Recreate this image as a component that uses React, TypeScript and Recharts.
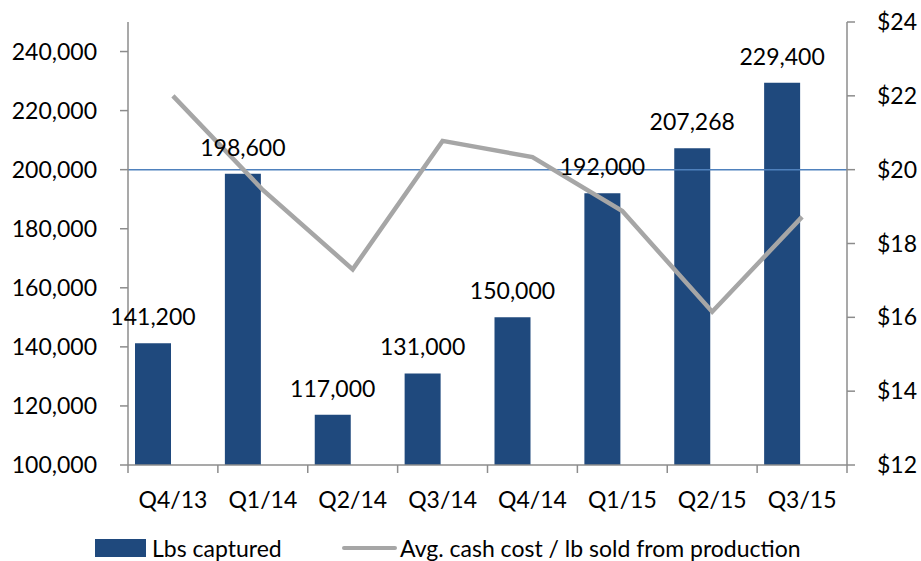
import { ComposedChart, Bar, Line, XAxis, YAxis, ReferenceLine, LabelList } from 'recharts';

const quarters = ['Q4/13', 'Q1/14', 'Q2/14', 'Q3/14', 'Q4/14', 'Q1/15', 'Q2/15', 'Q3/15'];
const lbsCaptured = [141200, 198600, 117000, 131000, 150000, 192000, 207268, 229400];
const cashCost = [22.0, 19.45, 17.3, 20.78, 20.34, 18.88, 16.15, 18.72];
const lbsTicks = [100000, 120000, 140000, 160000, 180000, 200000, 220000, 240000];
const costTicks = [12, 14, 16, 18, 20, 22, 24];

const data = quarters.map((q, i) => ({ q, lbs: lbsCaptured[i], cost: cashCost[i] }));

const FONT = 'Lato, "Open Sans", sans-serif';
const FS = 23;
const AXIS_GRAY = '#8c8c8c';
const BAR_BLUE = '#1f497d';
const LINE_GRAY = '#a6a6a6';

function QuarterTick({ x, y, payload, index, width, visibleTicksCount }: any) {
  const band = width / visibleTicksCount;
  const left = x - band / 2;
  return (
    <g>
      <line x1={left} y1={y} x2={left} y2={y + 8} stroke={AXIS_GRAY} strokeWidth={1.5} />
      {index === visibleTicksCount - 1 && (
        <line x1={x + band / 2} y1={y} x2={x + band / 2} y2={y + 8} stroke={AXIS_GRAY} strokeWidth={1.5} />
      )}
      <text x={x} y={y + 34} textAnchor="middle" dominantBaseline="central" fill="#000" fontSize={FS} fontFamily={FONT}>
        {payload.value}
      </text>
    </g>
  );
}

export default function App() {
  return (
    <div style={{ position: 'absolute', left: 0, top: 0, width: 921, height: 561, overflow: 'hidden', background: '#fff' }}>
      <ComposedChart width={921} height={575} data={data} margin={{ top: 22, right: 0, bottom: 60, left: 0 }}>
        <XAxis
          dataKey="q"
          xAxisId="x"
          height={50}
          tickSize={0}
          tickMargin={0}
          tickLine={false}
          axisLine={{ stroke: AXIS_GRAY, strokeWidth: 1.5 }}
          tick={<QuarterTick />}
          interval={0}
        />
        <YAxis
          yAxisId="lbs"
          width={128}
          domain={[100000, 250000]}
          ticks={lbsTicks}
          allowDataOverflow
          tickFormatter={(v: number) => v.toLocaleString('en-US')}
          tick={{ fill: '#000', fontSize: FS, fontFamily: FONT }}
          tickSize={8}
          tickMargin={23}
          tickLine={{ stroke: AXIS_GRAY, strokeWidth: 1.5 }}
          axisLine={{ stroke: AXIS_GRAY, strokeWidth: 1.5 }}
        />
        <YAxis
          yAxisId="cost"
          orientation="right"
          width={74}
          domain={[12, 24]}
          ticks={costTicks}
          tickFormatter={(v: number) => `$${v}`}
          tick={{ fill: '#000', fontSize: FS, fontFamily: FONT, textAnchor: 'start' }}
          tickSize={8}
          tickMargin={22}
          tickLine={{ stroke: AXIS_GRAY, strokeWidth: 1.5 }}
          axisLine={{ stroke: AXIS_GRAY, strokeWidth: 1.5 }}
        />
        <Bar dataKey="lbs" xAxisId="x" yAxisId="lbs" fill={BAR_BLUE} barSize={36} isAnimationActive={false} />
        <ReferenceLine y={200000} xAxisId="x" yAxisId="lbs" stroke="#4f81bd" strokeWidth={1.5} />
        <Line
          dataKey="cost"
          xAxisId="x"
          yAxisId="cost"
          stroke={LINE_GRAY}
          strokeWidth={4.5}
          dot={false}
          activeDot={false}
          isAnimationActive={false}
        />
        <Bar dataKey="lbs" xAxisId="x" yAxisId="lbs" fill="none" barSize={36} isAnimationActive={false} legendType="none">
          <LabelList
            dataKey="lbs"
            position="top"
            offset={18}
            formatter={(v: any) => Number(v).toLocaleString('en-US')}
            style={{ fill: '#000', fontSize: FS, fontFamily: FONT }}
          />
        </Bar>
      </ComposedChart>
      <div style={{ position: 'absolute', left: 95, top: 536, height: 24, display: 'flex', alignItems: 'center', fontFamily: FONT, fontSize: FS, lineHeight: '24px', color: '#000', whiteSpace: 'nowrap' }}>
        <span style={{ display: 'inline-block', width: 51, height: 18, background: BAR_BLUE, marginRight: 6 }} />
        <span>Lbs captured</span>
      </div>
      <div style={{ position: 'absolute', left: 342, top: 536, height: 24, display: 'flex', alignItems: 'center', fontFamily: FONT, fontSize: FS, lineHeight: '24px', color: '#000', whiteSpace: 'nowrap' }}>
        <span style={{ display: 'inline-block', width: 55, height: 4, borderRadius: 2, background: LINE_GRAY, marginRight: 3 }} />
        <span>Avg. cash cost / lb sold from production</span>
      </div>
    </div>
  );
}
